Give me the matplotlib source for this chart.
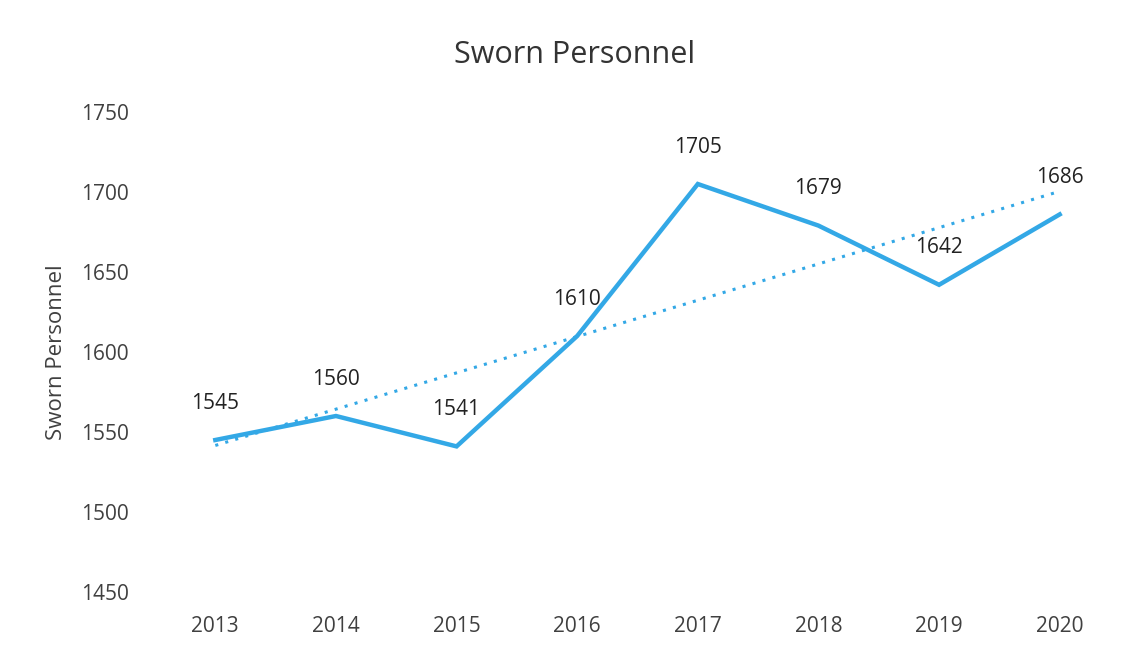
import numpy as np
import matplotlib
matplotlib.use("Agg")
import matplotlib.pyplot as plt

plt.rcParams['font.family'] = ['Open Sans', 'DejaVu Sans']

years = ['2013', '2014', '2015', '2016', '2017', '2018', '2019', '2020']
sworn = [1545, 1560, 1541, 1610, 1705, 1679, 1642, 1686]

line_color = '#33A8E6'
text_color = '#404040'

fig = plt.figure(figsize=(11.34, 6.48), dpi=100)
ax = fig.add_axes([155 / 1134, 1 - 592 / 648, 965 / 1134, 480 / 648])

x = np.arange(len(years))
ax.plot(x, sworn, color=line_color, lw=3.2, solid_joinstyle='miter')

# linear trendline like excel
k, b = np.polyfit(x, sworn, 1)
ax.plot(x, k * x + b, color=line_color, lw=2.2, linestyle=(0, (1, 2.4)))

for xi, v in zip(x, sworn):
    ax.annotate(str(v), (xi, v), xytext=(0, 19), textcoords='offset points',
                ha='center', va='bottom', fontsize=15, color='#222222')

ax.set_xlim(-0.5, 7.5)
ax.set_ylim(1450, 1750)
ax.set_yticks(range(1450, 1751, 50))
ax.set_xticks(x)
ax.set_xticklabels(years)
ax.tick_params(axis='both', length=0, labelsize=15, colors=text_color)
ax.tick_params(axis='x', pad=17)
ax.tick_params(axis='y', pad=19)
for s in ax.spines.values():
    s.set_visible(False)

ax.set_ylabel('Sworn Personnel', fontsize=16, color=text_color, labelpad=10)
fig.text(0.507, 1 - 55 / 648, 'Sworn Personnel', ha='center', va='center',
         fontsize=22, color='#333333')

fig.savefig('out.png', dpi=100)
